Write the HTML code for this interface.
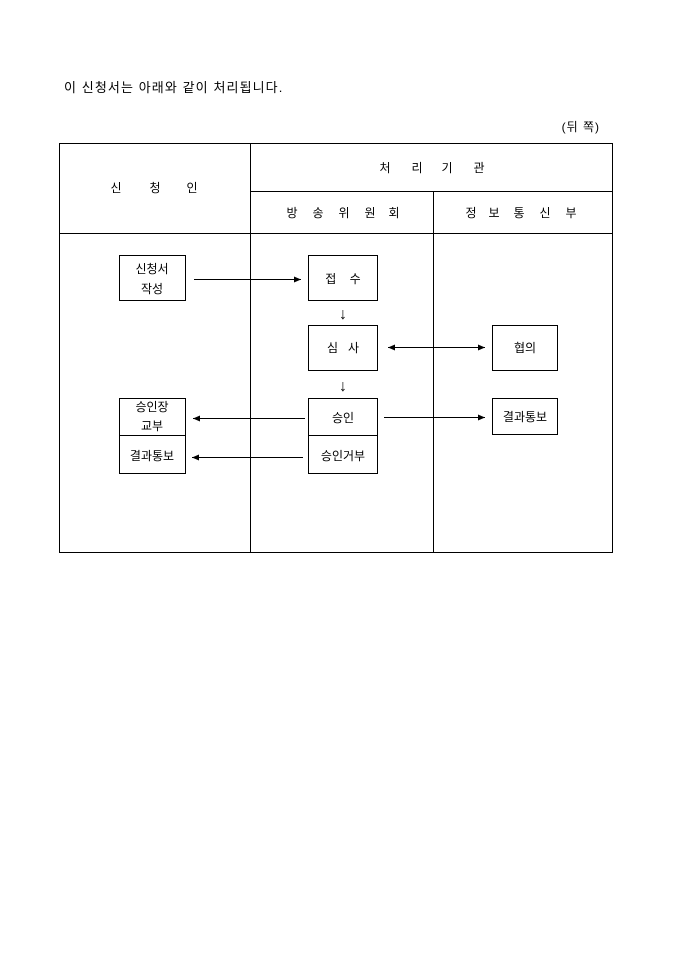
<!DOCTYPE html>
<html><head><meta charset="utf-8"><style>
body{margin:0;background:#fff;}
svg text{font-family:"Liberation Sans","Noto Sans CJK KR","NanumGothic",sans-serif;font-size:12px;fill:#000;}
</style></head><body>
<svg width="680" height="962" xmlns="http://www.w3.org/2000/svg">
<defs><marker id="a" markerWidth="8" markerHeight="8" refX="7" refY="3" orient="auto" markerUnits="userSpaceOnUse"><path d="M0,0 L7,3 L0,6z" fill="#000"/></marker>
<marker id="b" markerWidth="8" markerHeight="8" refX="0" refY="3" orient="auto" markerUnits="userSpaceOnUse"><path d="M7,0 L0,3 L7,6z" fill="#000"/></marker></defs>
<text x="64" y="92" style="font-size:13px;letter-spacing:1.1px">이 신청서는 아래와 같이 처리됩니다.</text>
<text x="600" y="131" text-anchor="end" style="letter-spacing:1px">(뒤 쪽)</text>
<g stroke="#000" stroke-width="1" fill="none">
<rect x="59.5" y="143.5" width="553" height="409"/>
<line x1="250.5" y1="143" x2="250.5" y2="552"/>
<line x1="433.5" y1="191" x2="433.5" y2="552"/>
<line x1="250" y1="191.5" x2="612" y2="191.5"/>
<line x1="59" y1="233.5" x2="612" y2="233.5"/>
<rect x="119.5" y="255.5" width="66" height="45"/>
<rect x="308.5" y="255.5" width="69" height="45"/>
<rect x="308.5" y="325.5" width="69" height="45"/>
<rect x="492.5" y="325.5" width="65" height="45"/>
<rect x="308.5" y="398.5" width="69" height="75"/>
<line x1="308" y1="435.5" x2="377" y2="435.5"/>
<rect x="119.5" y="398.5" width="66" height="75"/>
<line x1="119" y1="435.5" x2="185" y2="435.5"/>
<rect x="492.5" y="398.5" width="65" height="36"/>
<line x1="194" y1="279.5" x2="301" y2="279.5" marker-end="url(#a)"/>
<line x1="388" y1="347.5" x2="485" y2="347.5" marker-start="url(#b)" marker-end="url(#a)"/>
<line x1="305" y1="418.5" x2="193" y2="418.5" marker-end="url(#a)"/>
<line x1="303" y1="457.5" x2="192" y2="457.5" marker-end="url(#a)"/>
<line x1="384" y1="417.5" x2="485" y2="417.5" marker-end="url(#a)"/>
</g>
<g text-anchor="middle">
<text x="116" y="192">신</text><text x="155" y="192">청</text><text x="192" y="192">인</text>
<text x="385" y="172">처</text><text x="417" y="172">리</text><text x="447" y="172">기</text><text x="479" y="172">관</text>
<text x="292" y="217">방</text><text x="318" y="217">송</text><text x="344" y="217">위</text><text x="370" y="217">원</text><text x="394" y="217">회</text>
<text x="471" y="217">정</text><text x="494" y="217">보</text><text x="519" y="217">통</text><text x="545" y="217">신</text><text x="571" y="217">부</text>
<text x="152" y="273">신청서</text>
<text x="152" y="293">작성</text>
<text x="343" y="283">접&#160;&#160;&#160;&#160;수</text>
<text x="343" y="319" style="font-size:16px">↓</text>
<text x="343" y="352">심&#160;&#160;&#160;사</text>
<text x="525" y="352">협의</text>
<text x="343" y="391" style="font-size:16px">↓</text>
<text x="343" y="422">승인</text>
<text x="343" y="460">승인거부</text>
<text x="152" y="411">승인장</text>
<text x="152" y="430">교부</text>
<text x="152" y="460">결과통보</text>
<text x="525" y="421">결과통보</text>
</g>
</svg>
</body></html>
